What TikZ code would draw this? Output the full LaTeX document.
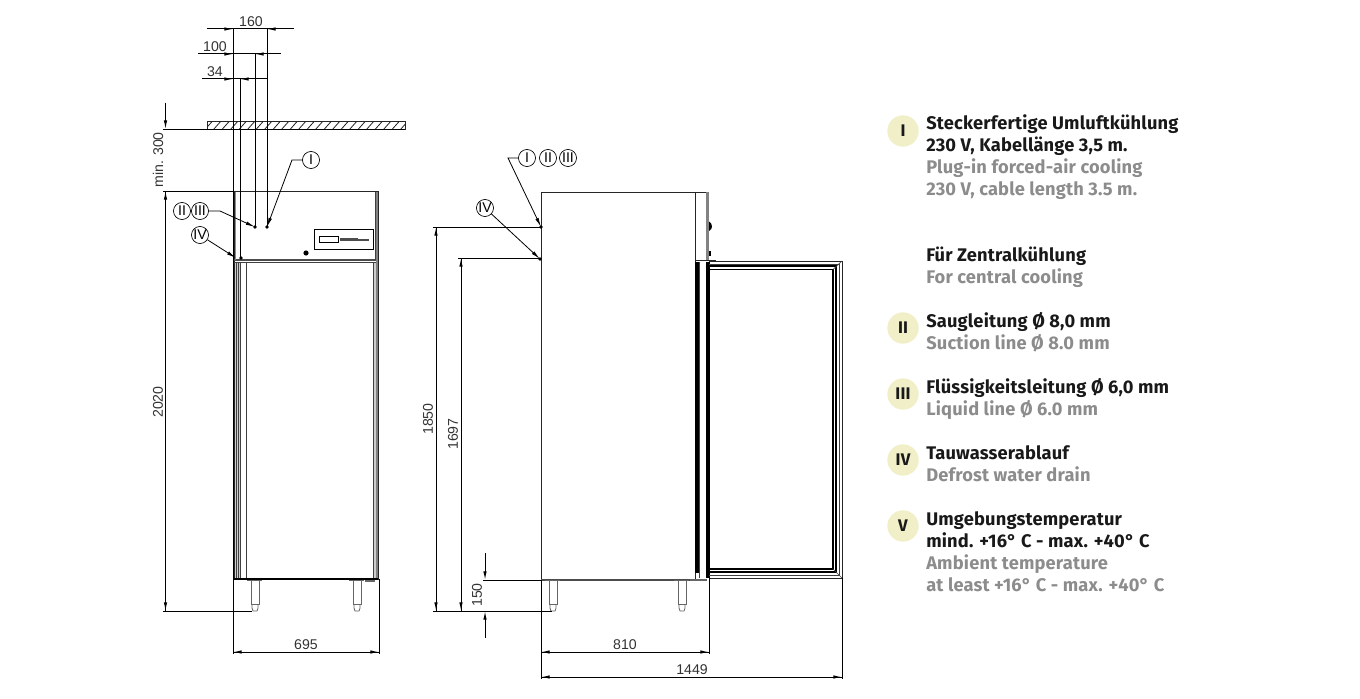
\documentclass[tikz,border=0pt]{standalone}
\usepackage{fontspec}
\usepackage{xcolor}
\setmainfont{Liberation Sans}
\newfontfamily\legendfont[LetterSpace=1.0]{Fira Sans}
\usetikzlibrary{arrows.meta,positioning,calc}
\definecolor{legendgrey}{RGB}{140,140,140}
\definecolor{legendblack}{RGB}{25,25,25}
\definecolor{badgefill}{RGB}{240,239,200}
\definecolor{sidegrey}{RGB}{130,130,130}
\definecolor{stripgrey}{RGB}{205,205,205}
\tikzset{
  dimline/.style={line width=0.75pt,black},
  dimtip/.style={dimline,-{Latex[length=6.5pt,width=2.6pt]}},
  leader/.style={line width=0.6pt,-{Latex[length=7pt,width=2.6pt]}},
  dimlabel/.style={inner sep=0pt,font=\fontsize{10.6}{12}\selectfont,text=black!80},
  balloon/.style={circle,draw,line width=0.5pt,minimum size=12.8pt,inner sep=0pt,fill=white,font=\fontsize{10.6}{12}\selectfont},
  outline/.style={line width=0.75pt,black!85},
  thinline/.style={line width=0.45pt,black!75},
  hatchline/.style={line width=0.6pt,black!85},
  footline/.style={line width=0.6pt,black!60},
  badge/.style={circle,fill=badgefill,minimum size=23.5pt,inner sep=0pt,text=legendblack,font=\legendfont\fontsize{12.6}{14}\bfseries\selectfont},
  de/.style={anchor=base west,inner sep=0pt,text=legendblack,font=\legendfont\fontsize{13.7}{15}\bfseries\selectfont},
  en/.style={anchor=base west,inner sep=0pt,text=legendgrey,font=\legendfont\fontsize{13.7}{15}\bfseries\selectfont},
}
\begin{document}
\begin{tikzpicture}[x=0.75pt,y=-0.75pt]
    \useasboundingbox (0,0) rectangle (1360,699);
    % ceiling
    \draw[hatchline] (207,121) rectangle (405,129);
    \begin{scope}
        \clip (207,121) rectangle (405,129);
        \foreach \hx in {207,215.5,...,415}
            \draw[hatchline] (\hx-2,129.5) -- (\hx+6,120.5);
    \end{scope}
    % front view
    \fill[stripgrey] (234,262) rectangle (240,579);
    \fill[stripgrey] (373,262) rectangle (378,579);
    \draw[outline] (234,191.5) rectangle (378,579);
    \draw[line width=1.1pt,black!70] (234,260) -- (378,260);
    \draw[thinline] (234,262) -- (378,262);
    \draw[line width=1pt,black!45] (235.5,191.5) -- (235.5,260);
    \draw[thinline] (375.5,191.5) -- (375.5,260);
    \draw[line width=1.1pt,sidegrey] (377,191.5) -- (377,579);
    \foreach \lx in {236,238,240,246}
        \draw[thinline] (\lx,262) -- (\lx,578);
    \draw[thinline] (373,262) -- (373,578);
    \draw[line width=1.2pt] (234,579) -- (378,579);
    \draw[line width=0.7pt] (314,229) rectangle (373,249);
    \draw[line width=0.6pt] (319,236) rectangle (338,242);
    \draw[line width=1.6pt,black!70] (340,239.5) -- (358,239.5);
    \draw[line width=1pt,black!70] (358,240) -- (369,240);
    \fill (306,253) circle (2.6);
    % front feet
    \foreach \fx in {251,353} {
        \draw[line width=0.9pt,black!60] (\fx-4,580.5) -- (\fx+11,580.5);
        \draw[footline] (\fx,581) -- (\fx,604) -- (\fx+8,604) -- (\fx+8,581);
        \draw[footline] (\fx+1,604) -- (\fx+1,608) -- (\fx+2,611) -- (\fx+6,611) -- (\fx+7,608) -- (\fx+7,604);
    }
    \fill[black!60] (365,580) rectangle (375,582);
    % side view
    \draw[outline] (541,580) -- (541,192) -- (709,192);
    \draw[outline] (695,192) -- (695,580);
    \fill[sidegrey] (706,192) rectangle (709,260);
    \fill (709,221.5) .. controls (713,224) and (713,229) .. (709,231) -- cycle;
    \fill (709,251) rectangle (710.5,256);
    \draw[outline] (695,260) -- (716,260);
    \fill (695,262) rectangle (699,573);
    \draw[thinline] (699,262) -- (699,578);
    \draw[line width=1.1pt] (707,262) -- (707,578);
    \draw[line width=1.1pt] (709,262) -- (709,578);
    \draw[line width=0.9pt,black!70] (541,580) -- (707,580);
    \fill[black!60] (690,578.5) rectangle (707,581);
    % side feet
    \foreach \fx in {549,678} {
        \draw[line width=0.9pt,black!60] (\fx-4,580.5) -- (\fx+11,580.5);
        \draw[footline] (\fx,581) -- (\fx,604) -- (\fx+8,604) -- (\fx+8,581);
        \draw[footline] (\fx+1,604) -- (\fx+1,608) -- (\fx+2,611) -- (\fx+6,611) -- (\fx+7,608) -- (\fx+7,604);
    }
    % open door
    \draw[outline] (709,261) -- (842,261) -- (842,578) -- (709,578);
    \draw[thinline] (709,264) -- (839,264) -- (839,575) -- (709,575);
    \draw[line width=1pt] (709,266) -- (836,266) -- (836,572) -- (709,572);
    \draw[line width=1pt] (709,269.5) -- (833,269.5) -- (833,569) -- (709,569);
    \draw[thinline] (833,269.5) -- (842,261);
    \draw[thinline] (833,569) -- (842,578);
    % extension lines
    \draw[dimline] (233,29) -- (233,654);
    \draw[dimline] (240,79) -- (240,258);
    \draw[dimline] (255,54) -- (255,227);
    \draw[dimline] (267,29) -- (267,227);
    \draw[dimline] (163,129) -- (405,129);
    \draw[dimline] (163,191) -- (234,191);
    \draw[dimline] (163,611) -- (252,611);
    \draw[dimline] (379,579) -- (379,654);
    \draw[dimline] (433,227) -- (541,227);
    \draw[dimline] (458,258) -- (541,258);
    \draw[dimline] (483,580) -- (541,580);
    \draw[dimline] (433,611) -- (552,611);
    \draw[dimline] (541,580) -- (541,679);
    \draw[dimline] (709,578) -- (709,654);
    \draw[dimline] (842,578) -- (842,679);
    % top dimensions
    \draw[dimline] (207,29) -- (294,29);
    \draw[dimtip] (225,29) -- (233,29);
    \draw[dimtip] (275,29) -- (267,29);
    \draw[dimline] (198,54) -- (281,54);
    \draw[dimtip] (225,54) -- (233,54);
    \draw[dimtip] (263,54) -- (255,54);
    \draw[dimline] (202,79) -- (268,79);
    \draw[dimtip] (225,79) -- (233,79);
    \draw[dimtip] (250,79) -- (240,79);
    \node[dimlabel] (lab160) at (251,22) {160};
    \node[dimlabel] (lab100) at (215,47) {100};
    \node[dimlabel] (lab34) at (215,72) {34};
    % front dimensions
    \draw[dimtip] (165.5,103) -- (165.5,129);
    \draw[dimtip] (165.5,611) -- (165.5,191);
    \draw[dimtip] (165.5,191) -- (165.5,611);
    \draw[dimtip] (379,652) -- (233,652);
    \draw[dimtip] (233,652) -- (379,652);
    \node[dimlabel,rotate=90] (labmin) at (158,160) {min. 300};
    \node[dimlabel,rotate=90] (lab2020) at (158,402) {2020};
    \node[dimlabel] (lab695) at (306,645) {695};
    % side dimensions
    \draw[dimtip] (436,611) -- (436,227);
    \draw[dimtip] (436,227) -- (436,611);
    \draw[dimtip] (461,611) -- (461,258);
    \draw[dimtip] (461,258) -- (461,611);
    \draw[dimtip] (485,553) -- (485,580);
    \draw[dimtip] (485,638) -- (485,611);
    \draw[dimtip] (709,652) -- (541,652);
    \draw[dimtip] (541,652) -- (709,652);
    \draw[dimtip] (842,677) -- (541,677);
    \draw[dimtip] (541,677) -- (842,677);
    \node[dimlabel,rotate=90] (lab1850) at (428,419) {1850};
    \node[dimlabel,rotate=90] (lab1697) at (453,434) {1697};
    \node[dimlabel,rotate=90] (lab150) at (477,595) {150};
    \node[dimlabel] (lab810) at (625,645) {810};
    \node[dimlabel] (lab1449) at (692,670) {1449};
    % balloons
    \node[balloon] (frontI) at (311,160) {I};
    \node[balloon] (frontII) at (182,211) {II};
    \node[balloon] (frontIII) at (200,211) {III};
    \node[balloon] (frontIV) at (200,235) {IV};
    \node[balloon] (sideI) at (527,158) {I};
    \node[balloon] (sideII) at (548,158) {II};
    \node[balloon] (sideIII) at (568,158) {III};
    \node[balloon] (sideIV) at (485,208) {IV};
    \coordinate (pipeI) at (267,227);
    \coordinate (pipeII) at (255,227);
    \coordinate (drainfront) at (236,258);
    \coordinate (pipeside) at (541,227);
    \coordinate (drainside) at (540,259);
    \coordinate (kneeI) at (292,160);
    \coordinate (kneeII) at (220,211);
    \coordinate (kneeside) at (508,158);
    \draw[leader] (frontI) -- (kneeI) -- (pipeI);
    \draw[leader] (frontIII) -- (kneeII) -- (pipeII);
    \draw[leader] (frontIV) -- (drainfront);
    \draw[leader] (sideI) -- (kneeside) -- (pipeside);
    \draw[leader] (sideIV) -- (drainside);
    \foreach \dotpos in {(267,227),(255,227),(241,258),(541,227),(540,259)}
        \fill \dotpos circle (1.8);
    % legend
    \node[badge] (badgeI) at (903,131) {I};
    \node[de] (leg1) at (926,129.5) {Steckerfertige Umluftkühlung};
    \node[de] (leg2) at (926,151.5) {230 V, Kabellänge 3,5 m.};
    \node[en] (leg3) at (926,173.5) {Plug-in forced-air cooling};
    \node[en] (leg4) at (926,195.5) {230 V, cable length 3.5 m.};
    \node[de] (leg5) at (926,261.5) {Für Zentralkühlung};
    \node[en] (leg6) at (926,283.5) {For central cooling};
    \node[badge] (badgeII) at (903,328) {II};
    \node[de] (leg7) at (926,327.5) {Saugleitung Ø 8,0 mm};
    \node[en] (leg8) at (926,349.5) {Suction line Ø 8.0 mm};
    \node[badge] (badgeIII) at (903,394) {III};
    \node[de] (leg9) at (926,393.5) {Flüssigkeitsleitung Ø 6,0 mm};
    \node[en] (leg10) at (926,415.5) {Liquid line Ø 6.0 mm};
    \node[badge] (badgeIV) at (903,460) {IV};
    \node[de] (leg11) at (926,459.5) {Tauwasserablauf};
    \node[en] (leg12) at (926,481.5) {Defrost water drain};
    \node[badge] (badgeV) at (903,526) {V};
    \node[de] (leg13) at (926,525.5) {Umgebungstemperatur};
    \node[de] (leg14) at (926,547.5) {mind. +16° C - max. +40° C};
    \node[en] (leg15) at (926,569.5) {Ambient temperature};
    \node[en] (leg16) at (926,591.5) {at least +16° C - max. +40° C};
\end{tikzpicture}
\end{document}
